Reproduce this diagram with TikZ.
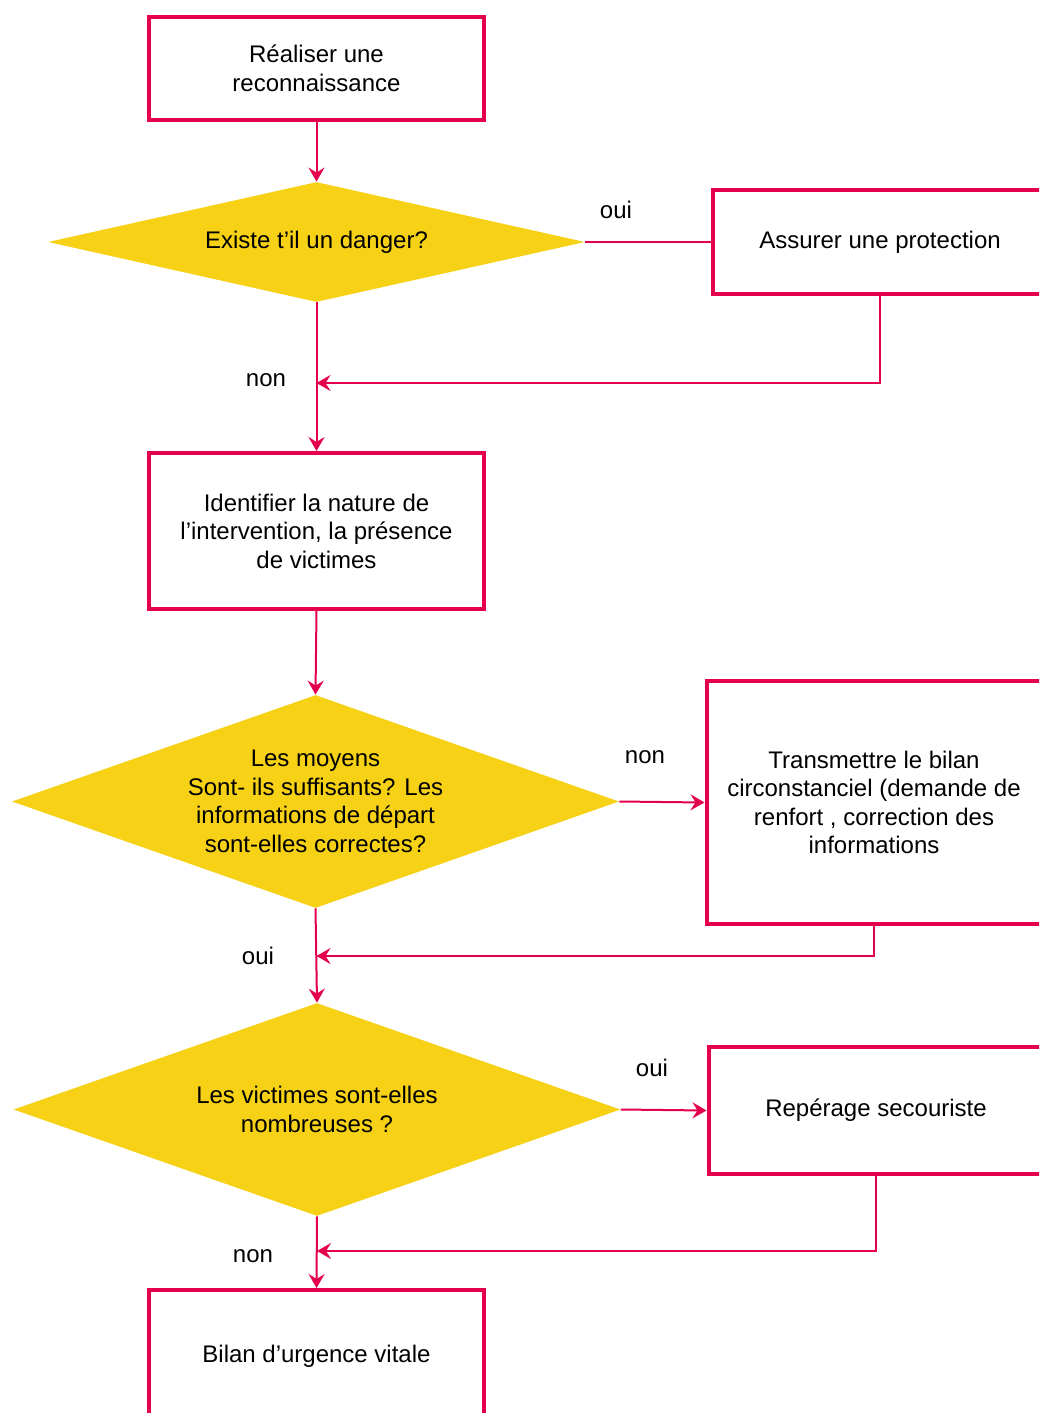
\documentclass[tikz,border=0pt]{standalone}
\usepackage{fontspec}
\setmainfont{Liberation Sans}
\usetikzlibrary{shapes.geometric,arrows.meta}
\definecolor{rouge}{HTML}{E4004F}
\definecolor{jaune}{HTML}{F6D115}
\begin{document}
\begin{tikzpicture}[x=0.5pt, y=-0.5pt,
  every node/.style = {font=\fontsize{12}{14.25}\selectfont, align=center},
  etape/.style = {shape=rectangle, draw=rouge, line width=2pt,
    minimum width=167.5pt},
  test/.style = {shape=diamond, fill=jaune, inner sep=0pt, aspect=2.85,
    minimum width=303.5pt, minimum height=106.5pt},
  fleche/.style = {draw=rouge, line width=1pt,
    -{Stealth[length=7pt,width=8pt,inset=2.5pt]}},
  trait/.style = {draw=rouge, line width=1pt}]
  \useasboundingbox (0,0) rectangle (1039,1413);
  \clip (0,0) rectangle (1039,1413);
  % colonne principale
  \node[etape, minimum height=51.5pt] (reco) at (316.5,68.5) {Réaliser une\\reconnaissance};
  \node[test, aspect=4.475, minimum width=268.5pt, minimum height=60pt] (danger) at (316.5,242) {Existe t’il un danger?};
  \node[etape, minimum height=78pt] (identif) at (316.5,531) {Identifier la nature de\\l’intervention, la présence\\de victimes};
  \node[test] (moyens) at (315.5,801.5) {Les moyens\\Sont- ils suffisants? Les\\informations de départ\\sont-elles correctes?};
  \node[test] (victimes) at (317,1109.5) {Les victimes sont-elles\\nombreuses ?};
  \node[etape, minimum height=66pt] (bilan) at (316.5,1356) {Bilan d’urgence vitale};
  % colonne de droite
  \node[etape, minimum height=52pt] (protect) at (880,242) {Assurer une protection};
  \node[etape, minimum height=121.5pt] (transmet) at (874,802.5) {Transmettre le bilan\\circonstanciel (demande de\\renfort , correction des\\informations};
  \node[etape, minimum height=63.5pt] (reperage) at (876,1110.5) {Repérage secouriste};
  % reponses
  \node (oui1) at (616,210) {oui};
  \node (non1) at (266,380) {non};
  \node (non2) at (645,757) {non};
  \node (oui2) at (258,956) {oui};
  \node (oui3) at (652,1068) {oui};
  \node (non3) at (253,1256) {non};
  % liaisons
  \coordinate (j1) at (316.5,383);
  \coordinate (j2) at (316.5,956);
  \coordinate (j3) at (317,1251);
  \draw[fleche] (reco.south) -- (danger.north);
  \draw[trait] (danger.east) -- (protect.west);
  \draw[fleche] (danger.south) -- (identif.north);
  \draw[fleche] (protect.south) |- (j1);
  \draw[fleche] (identif.south) -- (moyens.north);
  \draw[fleche] (moyens.east) -- (transmet.west);
  \draw[fleche] (transmet.south) |- (j2);
  \draw[fleche] (moyens.south) -- (victimes.north);
  \draw[fleche] (victimes.east) -- (reperage.west);
  \draw[fleche] (reperage.south) |- (j3);
  \draw[fleche] (victimes.south) -- (bilan.north);
\end{tikzpicture}
\end{document}
